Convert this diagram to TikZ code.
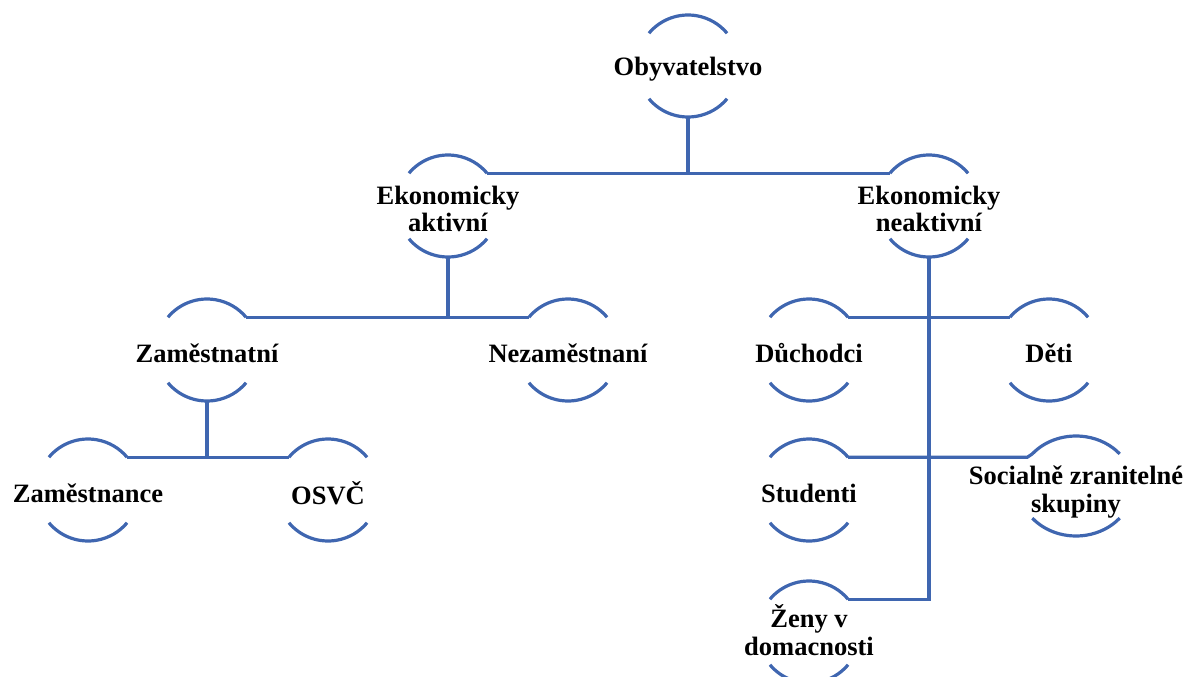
\documentclass[tikz,border=0pt]{standalone}
\usepackage{fontspec}
\setmainfont{Liberation Serif}
\usetikzlibrary{calc}
\definecolor{ringblue}{HTML}{3F66B0}
\tikzset{
  lbl/.style={inner sep=0pt, align=center, text=black,
    font=\bfseries\fontsize{26.5}{27.5}\selectfont},
  ring/.style={draw=ringblue, line width=3.2pt},
  conn/.style={draw=ringblue, line width=3.2pt},
}
% name, x, y, x radius, y radius, text, text shift
\newcommand{\mkring}[7]{%
  \coordinate (#1-c) at (#2,#3);
  \node[lbl, yshift=#7pt] (#1) at (#1-c) {#6};
  \coordinate (#1-tl) at ([shift={(140:#4pt and #5pt)}]#1-c);
  \coordinate (#1-tr) at ([shift={(40:#4pt and #5pt)}]#1-c);
  \coordinate (#1-bl) at ([shift={(220:#4pt and #5pt)}]#1-c);
  \coordinate (#1-b) at ([shift={(270:#4pt and #5pt)}]#1-c);
  \draw[ring] (#1-tl) arc[start angle=140,end angle=40,x radius=#4pt,y radius=#5pt];
  \draw[ring] (#1-bl) arc[start angle=220,end angle=320,x radius=#4pt,y radius=#5pt];
}
\begin{document}
\begin{tikzpicture}[x=1pt,y=1pt]
\useasboundingbox (0,0) rectangle (1186,-677);
\mkring{oby}{688}{-66}{51}{51}{Obyvatelstvo}{-3}
\mkring{akt}{448}{-206}{51}{51}{Ekonomicky\\aktivní}{-3}
\mkring{nea}{929}{-206}{51}{51}{Ekonomicky\\neaktivní}{-3}
\mkring{zam}{207}{-350}{51}{51}{Zaměstnatní}{-3}
\mkring{nez}{568}{-350}{51}{51}{Nezaměstnaní}{-3}
\mkring{zce}{88}{-490}{51}{51}{Zaměstnance}{-3}
\mkring{osvc}{328}{-490}{51}{51}{OSVČ}{-3}
\mkring{duch}{809}{-350}{51}{51}{Důchodci}{-3}
\mkring{deti}{1049}{-350}{51}{51}{Děti}{-3}
\mkring{stud}{809}{-490}{51}{51}{Studenti}{-3}
\mkring{soc}{1076}{-486}{57}{50}{Socialně zranitelné\\skupiny}{-6}
\mkring{zeny}{809}{-632}{51}{51}{Ženy v\\domacnosti}{2}
% connectors
\draw[conn] (oby-b) -- (oby-b |- akt-tr);
\draw[conn] (akt-tr) -- (nea-tl);
\draw[conn] (akt-b) -- (akt-b |- zam-tr);
\draw[conn] (zam-tr) -- (nez-tl);
\draw[conn] (zam-b) -- (zam-b |- zce-tr);
\draw[conn] (zce-tr) -- (osvc-tl);
\draw[conn] (nea-b) -- (nea-b |- zeny-tr) -- (zeny-tr);
\draw[conn] (duch-tr) -- (deti-tl);
\draw[conn] (stud-tr) -- ([xshift=-5pt]stud-tr -| soc-tl) -- (soc-tl);
\end{tikzpicture}
\end{document}
